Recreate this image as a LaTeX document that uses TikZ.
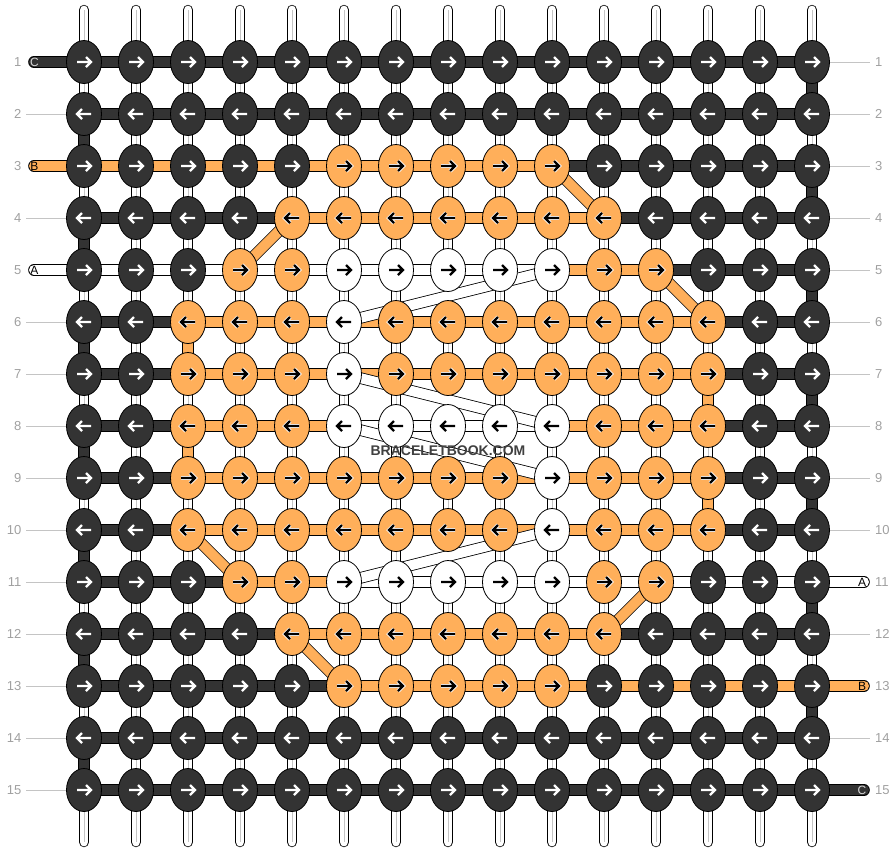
\documentclass[tikz,border=0pt]{standalone}
\usepackage{fontspec}
\setmainfont{Liberation Sans}
\usetikzlibrary{shapes.geometric,backgrounds}

\definecolor{threaddark}{HTML}{333333}
\definecolor{threadorange}{RGB}{255,175,90}
\definecolor{numgray}{HTML}{A0A0A0}
\definecolor{rulegray}{HTML}{C4C4C4}
\definecolor{stubgray}{HTML}{D8D8D8}
\definecolor{markgray}{HTML}{404040}

\begin{document}
\begin{tikzpicture}[x=1pt,y=1pt]

\tikzstyle{knot}=[ellipse,draw=black,line width=0.8pt,minimum width=35pt,minimum height=43pt,inner sep=0pt]
\tikzstyle{kd}=[knot,fill=threaddark]
\tikzstyle{ko}=[knot,fill=threadorange]
\tikzstyle{kw}=[knot,fill=white]
\tikzstyle{ad}=[draw=white,line width=2.3pt]
\tikzstyle{ao}=[draw=black,line width=2.3pt,preaction={draw=white,line width=3.9pt}]
\tikzstyle{aw}=[draw=black,line width=2.3pt]
\tikzstyle{thread}=[line width=0.8pt,double distance=10pt]
\tikzstyle{sd}=[thread,double=threaddark]
\tikzstyle{so}=[thread,double=threadorange]
\tikzstyle{sw}=[thread,double=white]
\tikzstyle{base}=[line width=0.8pt,double=white,double distance=8.8pt,line cap=round]
\tikzstyle{basecore}=[rulegray,line width=0.7pt]
\tikzstyle{rownum}=[text=numgray,font=\fontsize{13}{15}\selectfont,inner sep=0pt]
\tikzstyle{endtag}=[font=\fontsize{12}{14}\selectfont,inner sep=0pt]
\tikzstyle{labelline}=[rulegray,line width=0.8pt]

\useasboundingbox (0,0) rectangle (896,-852);

% knots, 52pt apart; odd rows point right
\foreach \r/\row in {
  1/{d,d,d,d,d,d,d,d,d,d,d,d,d,d,d},
  2/{d,d,d,d,d,d,d,d,d,d,d,d,d,d,d},
  3/{d,d,d,d,d,o,o,o,o,o,d,d,d,d,d},
  4/{d,d,d,d,o,o,o,o,o,o,o,d,d,d,d},
  5/{d,d,d,o,o,w,w,w,w,w,o,o,d,d,d},
  6/{d,d,o,o,o,w,o,o,o,o,o,o,o,d,d},
  7/{d,d,o,o,o,w,o,o,o,o,o,o,o,d,d},
  8/{d,d,o,o,o,w,w,w,w,w,o,o,o,d,d},
  9/{d,d,o,o,o,o,o,o,o,w,o,o,o,d,d},
  10/{d,d,o,o,o,o,o,o,o,w,o,o,o,d,d},
  11/{d,d,d,o,o,w,w,w,w,w,o,o,d,d,d},
  12/{d,d,d,d,o,o,o,o,o,o,o,d,d,d,d},
  13/{d,d,d,d,d,o,o,o,o,o,d,d,d,d,d},
  14/{d,d,d,d,d,d,d,d,d,d,d,d,d,d,d},
  15/{d,d,d,d,d,d,d,d,d,d,d,d,d,d,d}}{
  \pgfmathtruncatemacro\dir{2*mod(\r,2)-1}
  \foreach \kc [count=\c] in \row {
    \node[k\kc] (k-\r-\c) at (32+52*\c,-10-52*\r) {};
    \draw[a\kc] (k-\r-\c.center) +(-7*\dir,0) -- +(7*\dir,0) +(2*\dir,5) -- +(7*\dir,0) -- +(2*\dir,-5);
  }
}

\begin{scope}[on background layer]
% base strings
\foreach \c in {1,...,15}{
  \coordinate (top-\c) at (32+52*\c,-10);
  \coordinate (bot-\c) at (32+52*\c,-842);
  \draw[base] (top-\c) -- (bot-\c);
  \draw[basecore] (top-\c) -- (bot-\c);
}

% turns at the edges
\foreach \a in {1,3,...,13}{
  \pgfmathtruncatemacro\b{\a+1}
  \draw[sd] (k-\a-15.center) -- (k-\b-15.center);
}
\foreach \a in {2,4,...,14}{
  \pgfmathtruncatemacro\b{\a+1}
  \draw[sd] (k-\a-1.center) -- (k-\b-1.center);
}
\foreach \a/\b/\c in {6/7/3,8/9/3,7/8/13,9/10/13}
  \draw[so] (k-\a-\c.center) -- (k-\b-\c.center);

% row threads
\foreach \r/\row in {
  1/{d,d,d,d,d,d,d,d,d,d,d,d,d,d},
  2/{d,d,d,d,d,d,d,d,d,d,d,d,d,d},
  3/{o,o,o,o,o,o,o,o,o,d,d,d,d,d},
  4/{d,d,d,d,o,o,o,o,o,o,d,d,d,d},
  5/{w,w,w,w,w,w,w,w,w,o,o,d,d,d},
  6/{d,d,o,o,o,o,o,o,o,o,o,o,d,d},
  7/{d,d,o,o,o,o,o,o,o,o,o,o,d,d},
  8/{d,d,o,o,o,w,w,w,w,o,o,o,d,d},
  9/{d,d,o,o,o,o,o,o,o,o,o,o,d,d},
  10/{d,d,o,o,o,o,o,o,o,o,o,o,d,d},
  11/{d,d,d,o,o,w,w,w,w,w,w,w,w,w},
  12/{d,d,d,d,o,o,o,o,o,o,d,d,d,d},
  13/{d,d,d,d,d,o,o,o,o,o,o,o,o,o},
  14/{d,d,d,d,d,d,d,d,d,d,d,d,d,d},
  15/{d,d,d,d,d,d,d,d,d,d,d,d,d,d}}{
  \foreach \sc [count=\c] in \row {
    \pgfmathtruncatemacro\n{\c+1}
    \draw[s\sc] (k-\r-\c.center) -- (k-\r-\n.center);
  }
}

% loose ends
\foreach \r/\sc in {1/d,3/o,5/w}{
  \coordinate (sl-\r) at (34,-10-52*\r);
  \draw[s\sc,line cap=round] (sl-\r) -- (k-\r-1.center);
}
\foreach \r/\sc in {11/w,13/o,15/d}{
  \coordinate (sr-\r) at (864,-10-52*\r);
  \draw[s\sc,line cap=round] (k-\r-15.center) -- (sr-\r);
}

% steps between rows
\foreach \a/\b/\c/\d in {3/10/4/11,4/5/5/4,5/12/6/13,10/3/11/4,11/12/12/11,12/5/13/6}
  \draw[so] (k-\a-\b.center) -- (k-\c-\d.center);
\foreach \a/\b/\c/\d in {5/10/6/6,7/6/8/10,8/6/9/10,10/10/11/6}
  \draw[sw] (k-\a-\b.center) -- (k-\c-\d.center);

% label rules
\foreach \r in {2,4,6,7,8,9,10,11,12,13,14,15}{
  \coordinate (ll-\r) at (26,-10-52*\r);
  \draw[labelline] (ll-\r) -- (k-\r-1);
}
\foreach \r in {1,2,3,4,5,6,7,8,9,10,12,14}{
  \coordinate (rl-\r) at (870,-10-52*\r);
  \draw[labelline] (k-\r-15) -- (rl-\r);
}
\end{scope}

\foreach \r/\t/\tc in {1/C/stubgray,3/B/black,5/A/black}
  \node[endtag,text=\tc] (tl-\r) at (34.5,-10-52*\r) {\t};
\foreach \r/\t/\tc in {11/A/black,13/B/black,15/C/stubgray}
  \node[endtag,text=\tc] (tr-\r) at (862,-10-52*\r) {\t};

\foreach \r in {1,...,15}{
  \node[rownum,anchor=east] (nl-\r) at (21.5,-10-52*\r) {\r};
  \node[rownum,anchor=west] (nr-\r) at (875,-10-52*\r) {\r};
}

\node[font=\bfseries\fontsize{14}{16}\selectfont,text=markgray] (mark) at (448,-451) {BRACELETBOOK.COM};

\end{tikzpicture}
\end{document}
